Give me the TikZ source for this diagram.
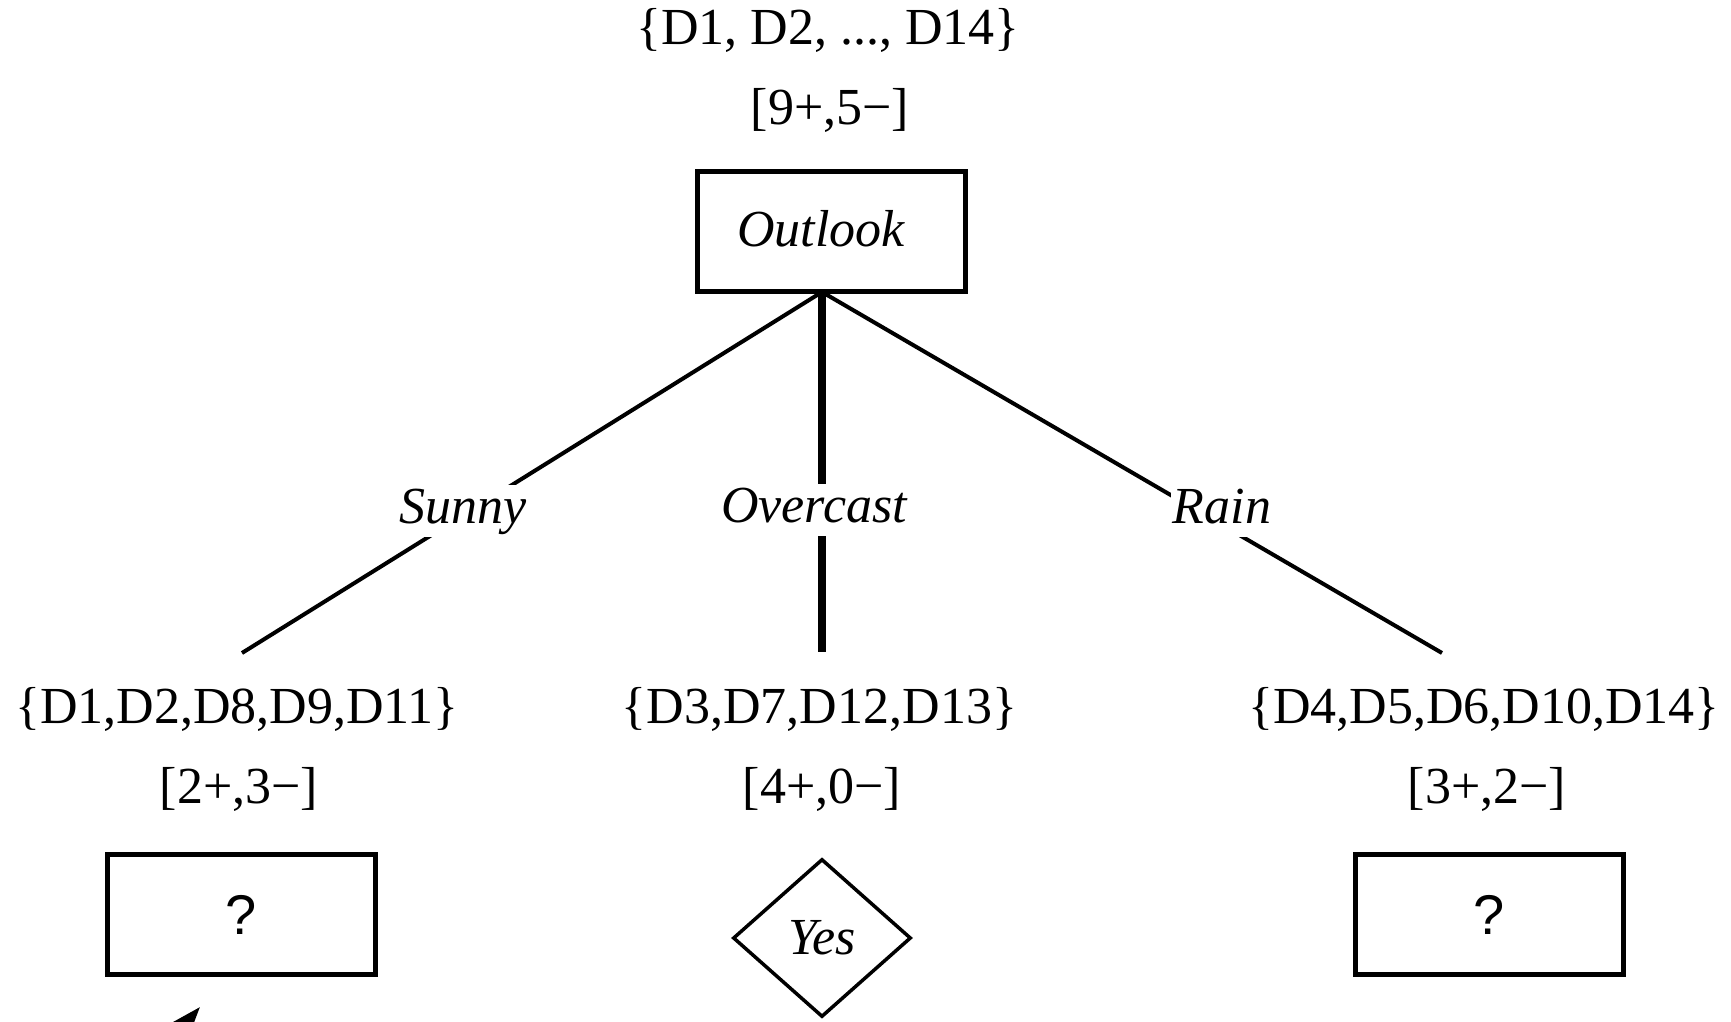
\documentclass[tikz,border=0pt]{standalone}
\usepackage{fontspec}
\setmainfont{Liberation Serif}
\newfontfamily\qfont{Liberation Sans}
\usetikzlibrary{shapes.geometric,arrows.meta}
\begin{document}
\begin{tikzpicture}[x=0.5pt,y=-0.5pt,
  txt/.style={font=\fontsize{26}{30}\selectfont, inner sep=0pt, anchor=base},
  itxt/.style={font=\fontsize{26}{30}\selectfont\itshape, inner sep=0pt, anchor=base},
  lbl/.style={font=\fontsize{26}{30}\selectfont\itshape, inner xsep=1pt, inner ysep=1pt, anchor=base, fill=white, text height=18pt, text depth=6pt},
  attrbox/.style={draw, line width=2.5pt, minimum width=134pt, minimum height=60pt, inner sep=0pt},
  qmark/.style={font=\fontsize{28}{32}\selectfont\qfont},
  leaf/.style={draw, diamond, line width=1.75pt, minimum width=89pt, minimum height=79pt, inner sep=0pt, font=\fontsize{26}{30}\selectfont\itshape},
  branch/.style={line width=2pt},
  mainbranch/.style={line width=4pt}]
\useasboundingbox (0,0) rectangle (1731,1022);
\clip (0,0) rectangle (1731,1022);
\fill[white] (0,0) rectangle (1731,1022);

% root
\node[txt] (s0) at (828,45) {\{D1, D2, ..., D14\}};
\node[txt] (c0) at (830,125) {[9+,5−]};
\node[attrbox] (root) at (831,231.5) {};
\node[itxt] (rootlbl) at (821,247) {Outlook};
\coordinate (j) at (822,292);

% branch ends
\coordinate (e1) at (242,653);
\coordinate (e2) at (822,652);
\coordinate (e3) at (1442,653);
\draw[branch] (j) -- (e1);
\draw[mainbranch] (j) -- (e2);
\draw[branch] (j) -- (e3);

% branch labels
\node[lbl] (sunny) at (463,523) {Sunny};
\node[lbl] (overcast) at (814,522) {Overcast};
\node[lbl] (rain) at (1222,523) {Rain};

% left child
\node[txt] (s1) at (237,723) {\{D1,D2,D8,D9,D11\}};
\node[txt] (c1) at (239,803) {[2+,3−]};
\node[attrbox, qmark] (q1) at (241.5,914.5) {?};

% middle child
\node[txt] (s2) at (819.5,723) {\{D3,D7,D12,D13\}};
\node[txt] (c2) at (822,803) {[4+,0−]};
\node[leaf] (yes) at (822,938) {Yes};

% right child
\node[txt] (s3) at (1484,723) {\{D4,D5,D6,D10,D14\}};
\node[txt] (c3) at (1487,803) {[3+,2−]};
\node[attrbox, qmark] (q3) at (1489,914.5) {?};

% cut-off arrow at the bottom
\coordinate (a0) at (148,1067);
\coordinate (a1) at (200,1007);
\draw[line width=2pt,-{Triangle[length=20pt,width=14pt]}] (a0) -- (a1);
\end{tikzpicture}
\end{document}
